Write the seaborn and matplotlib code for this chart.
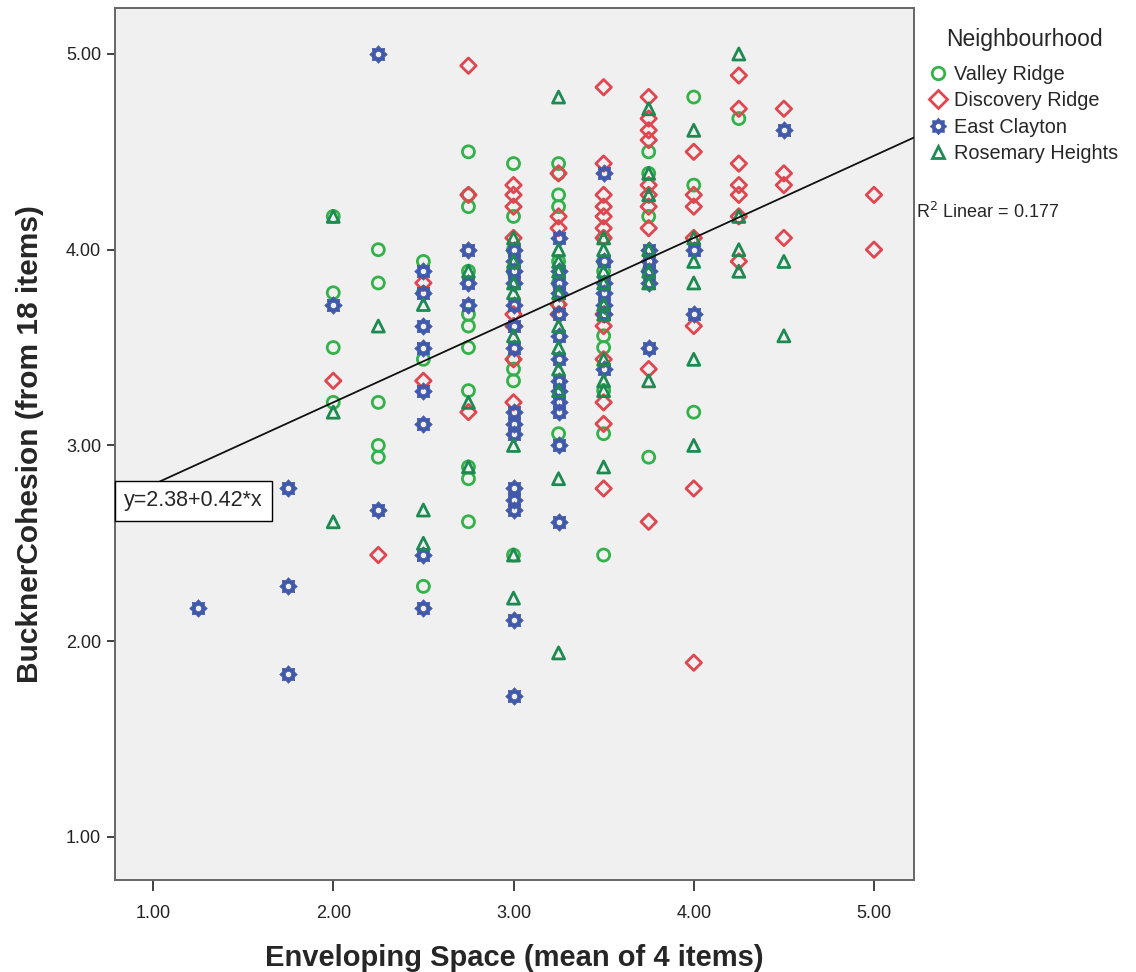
import numpy as np
import pandas as pd
import seaborn as sns
import matplotlib.pyplot as plt
from matplotlib.path import Path
from matplotlib.lines import Line2D

# BucknerCohesion values per Enveloping Space score
valley_ridge = {
    2.00: [4.17, 3.78, 3.50, 3.22],
    2.25: [4.00, 3.83, 3.22, 3.00, 2.94],
    2.50: [3.94, 3.78, 3.44, 2.28],
    2.75: [4.50, 4.28, 4.22, 3.89, 3.67, 3.61, 3.50, 3.28, 2.89, 2.83, 2.61],
    3.00: [4.44, 4.17, 4.00, 3.89, 3.44, 3.39, 3.33, 2.44],
    3.25: [4.44, 4.39, 4.28, 4.22, 3.94, 3.83, 3.72, 3.06],
    3.50: [4.06, 3.94, 3.89, 3.56, 3.50, 3.28, 3.06, 2.44],
    3.75: [4.50, 4.39, 4.17, 3.89, 2.94],
    4.00: [4.78, 4.33, 3.17],
    4.25: [4.67],
}
discovery_ridge = {
    2.00: [3.33],
    2.25: [2.44],
    2.50: [3.83, 3.33],
    2.75: [4.94, 4.28, 3.17],
    3.00: [4.33, 4.28, 4.22, 4.06, 3.67, 3.61, 3.44, 3.22],
    3.25: [4.39, 4.17, 4.11, 3.72, 3.67],
    3.50: [4.83, 4.44, 4.28, 4.22, 4.17, 4.11, 4.06, 3.67, 3.61, 3.44, 3.22, 3.11, 2.78],
    3.75: [4.78, 4.67, 4.61, 4.56, 4.33, 4.28, 4.22, 4.11, 3.39, 2.61],
    4.00: [4.50, 4.28, 4.22, 4.06, 3.61, 2.78, 1.89],
    4.25: [4.89, 4.72, 4.44, 4.33, 4.28, 4.17, 3.94],
    4.50: [4.72, 4.39, 4.33, 4.06],
    5.00: [4.28, 4.00],
}
east_clayton = {
    1.25: [2.17],
    1.75: [2.78, 2.28, 1.83],
    2.00: [3.72],
    2.25: [5.00, 2.67],
    2.50: [3.89, 3.78, 3.61, 3.50, 3.28, 3.11, 2.44, 2.17],
    2.75: [4.00, 3.83, 3.72],
    3.00: [4.00, 3.94, 3.89, 3.83, 3.72, 3.61, 3.50, 3.17, 3.11, 3.06, 2.78, 2.72, 2.67, 2.11, 1.72],
    3.25: [4.06, 3.89, 3.83, 3.78, 3.67, 3.56, 3.44, 3.33, 3.28, 3.22, 3.17, 3.00, 2.61],
    3.50: [4.39, 3.94, 3.83, 3.78, 3.72, 3.67, 3.39],
    3.75: [4.00, 3.94, 3.89, 3.83, 3.50],
    4.00: [4.00, 3.67],
    4.50: [4.61],
}
rosemary_heights = {
    2.00: [4.17, 3.17, 2.61],
    2.25: [3.61],
    2.50: [3.72, 2.67, 2.50],
    2.75: [3.89, 3.22, 2.89],
    3.00: [4.06, 3.94, 3.83, 3.78, 3.56, 3.00, 2.44, 2.22],
    3.25: [4.78, 4.00, 3.94, 3.89, 3.78, 3.61, 3.50, 3.39, 3.28, 2.83, 1.94],
    3.50: [4.06, 4.00, 3.89, 3.83, 3.72, 3.67, 3.44, 3.33, 3.28, 2.89],
    3.75: [4.72, 4.39, 4.28, 4.00, 3.89, 3.83, 3.33],
    4.00: [4.61, 4.06, 3.94, 3.83, 3.44, 3.00],
    4.25: [5.00, 4.17, 4.00, 3.89],
    4.50: [3.94, 3.56],
}

groups = ['Valley Ridge', 'Discovery Ridge', 'East Clayton', 'Rosemary Heights']
group_data = [valley_ridge, discovery_ridge, east_clayton, rosemary_heights]
colors = ['#34b24a', '#e0464f', '#4159ab', '#1e8a52']

intercept, slope = 2.38, 0.42
r_squared = 0.177
ticks = [1, 2, 3, 4, 5]

rows = []
for name, cols in zip(groups, group_data):
    for x, ys in cols.items():
        for y in ys:
            rows.append((x, y, name))
df = pd.DataFrame(rows, columns=['space', 'cohesion', 'hood'])

# SPSS style "gear" marker: 8 teeth with a hole in the middle
ang = np.linspace(0, 2 * np.pi, 16, endpoint=False)
rad = np.where(np.arange(16) % 2 == 0, 1.0, 0.74)
outer = np.column_stack([rad * np.cos(ang), rad * np.sin(ang)])
hang = np.linspace(0, -2 * np.pi, 20, endpoint=False)
inner = np.column_stack([0.36 * np.cos(hang), 0.36 * np.sin(hang)])
verts = np.vstack([outer, outer[:1], inner, inner[:1]])
codes = ([Path.MOVETO] + [Path.LINETO] * 15 + [Path.CLOSEPOLY]
         + [Path.MOVETO] + [Path.LINETO] * 19 + [Path.CLOSEPOLY])
gear = Path(verts, codes)

markers = {'Valley Ridge': 'o', 'Discovery Ridge': 'D', 'East Clayton': gear,
           'Rosemary Heights': '^'}
sizes = {'Valley Ridge': 75, 'Discovery Ridge': 62, 'East Clayton': 160,
         'Rosemary Heights': 75}
palette = dict(zip(groups, colors))

sns.set_style('white', {'axes.facecolor': '#f0f0f0', 'axes.edgecolor': '#666666',
                        'xtick.bottom': True, 'ytick.left': True})
plt.rcParams['font.family'] = ['Liberation Sans', 'DejaVu Sans']

fig = plt.figure(figsize=(11.36, 9.72), dpi=100)
ax = fig.add_axes([0.1012, 0.0947, 0.7034, 0.8971])

for name in groups:
    sub = df[df['hood'] == name]
    sns.scatterplot(data=sub, x='space', y='cohesion', marker=markers[name],
                    s=sizes[name], color=palette[name], legend=False, ax=ax, zorder=2)
    coll = ax.collections[-1]
    coll.set_edgecolor(palette[name])
    if name == 'East Clayton':
        coll.set_facecolor(palette[name])
        coll.set_linewidth(0.5)
    else:
        coll.set_facecolor('none')
        coll.set_linewidth(2.0)

ax.axline((0, intercept), slope=slope, color='#111111', lw=1.3, zorder=3)

ax.set_xlim(0.789, 5.222)
ax.set_ylim(0.78, 5.235)
ax.set_xticks(ticks)
ax.set_yticks(ticks)
ax.set_xticklabels([f'{v:.2f}' for v in ticks])
ax.set_yticklabels([f'{v:.2f}' for v in ticks])
ax.tick_params(axis='both', direction='out', width=1.3, color='#333333',
               labelsize=13, labelcolor='#222222', bottom=True, left=True)
ax.tick_params(axis='x', pad=10, length=8)
ax.tick_params(axis='y', pad=4, length=6)
for sp in ax.spines.values():
    sp.set_linewidth(1.4)

ax.set_xlabel('Enveloping Space (mean of 4 items)', fontsize=21, fontweight='bold',
              labelpad=16)
ax.set_ylabel('BucknerCohesion (from 18 items)', fontsize=21.5, fontweight='bold',
              labelpad=16)

ax.text(0.0115, 0.4346, 'y=2.38+0.42*x', transform=ax.transAxes, fontsize=15.5,
        va='center', ha='left', zorder=5,
        bbox=dict(boxstyle='square,pad=0.42', fc='white', ec='black', lw=1))

fig.text(0.806, 1 - 212 / 972, f'R$^2$ Linear = {r_squared}', fontsize=13,
         va='center', ha='left')

handles = [Line2D([], [], linestyle='none', marker=markers[n],
                  markersize=9 if n != 'East Clayton' else 12,
                  markerfacecolor=palette[n] if n == 'East Clayton' else 'none',
                  markeredgecolor=palette[n],
                  markeredgewidth=2 if n != 'East Clayton' else 0.5)
           for n in groups]
leg = fig.legend(handles, groups, title='Neighbourhood', loc='upper left',
                 bbox_to_anchor=(0.812, 0.979), frameon=False, fontsize=14.3,
                 title_fontsize=16.5, handlelength=0.8, handletextpad=0.4,
                 labelspacing=0.36, borderaxespad=0)
leg._legend_box.sep = 10

fig.savefig('out.png', dpi=100)
